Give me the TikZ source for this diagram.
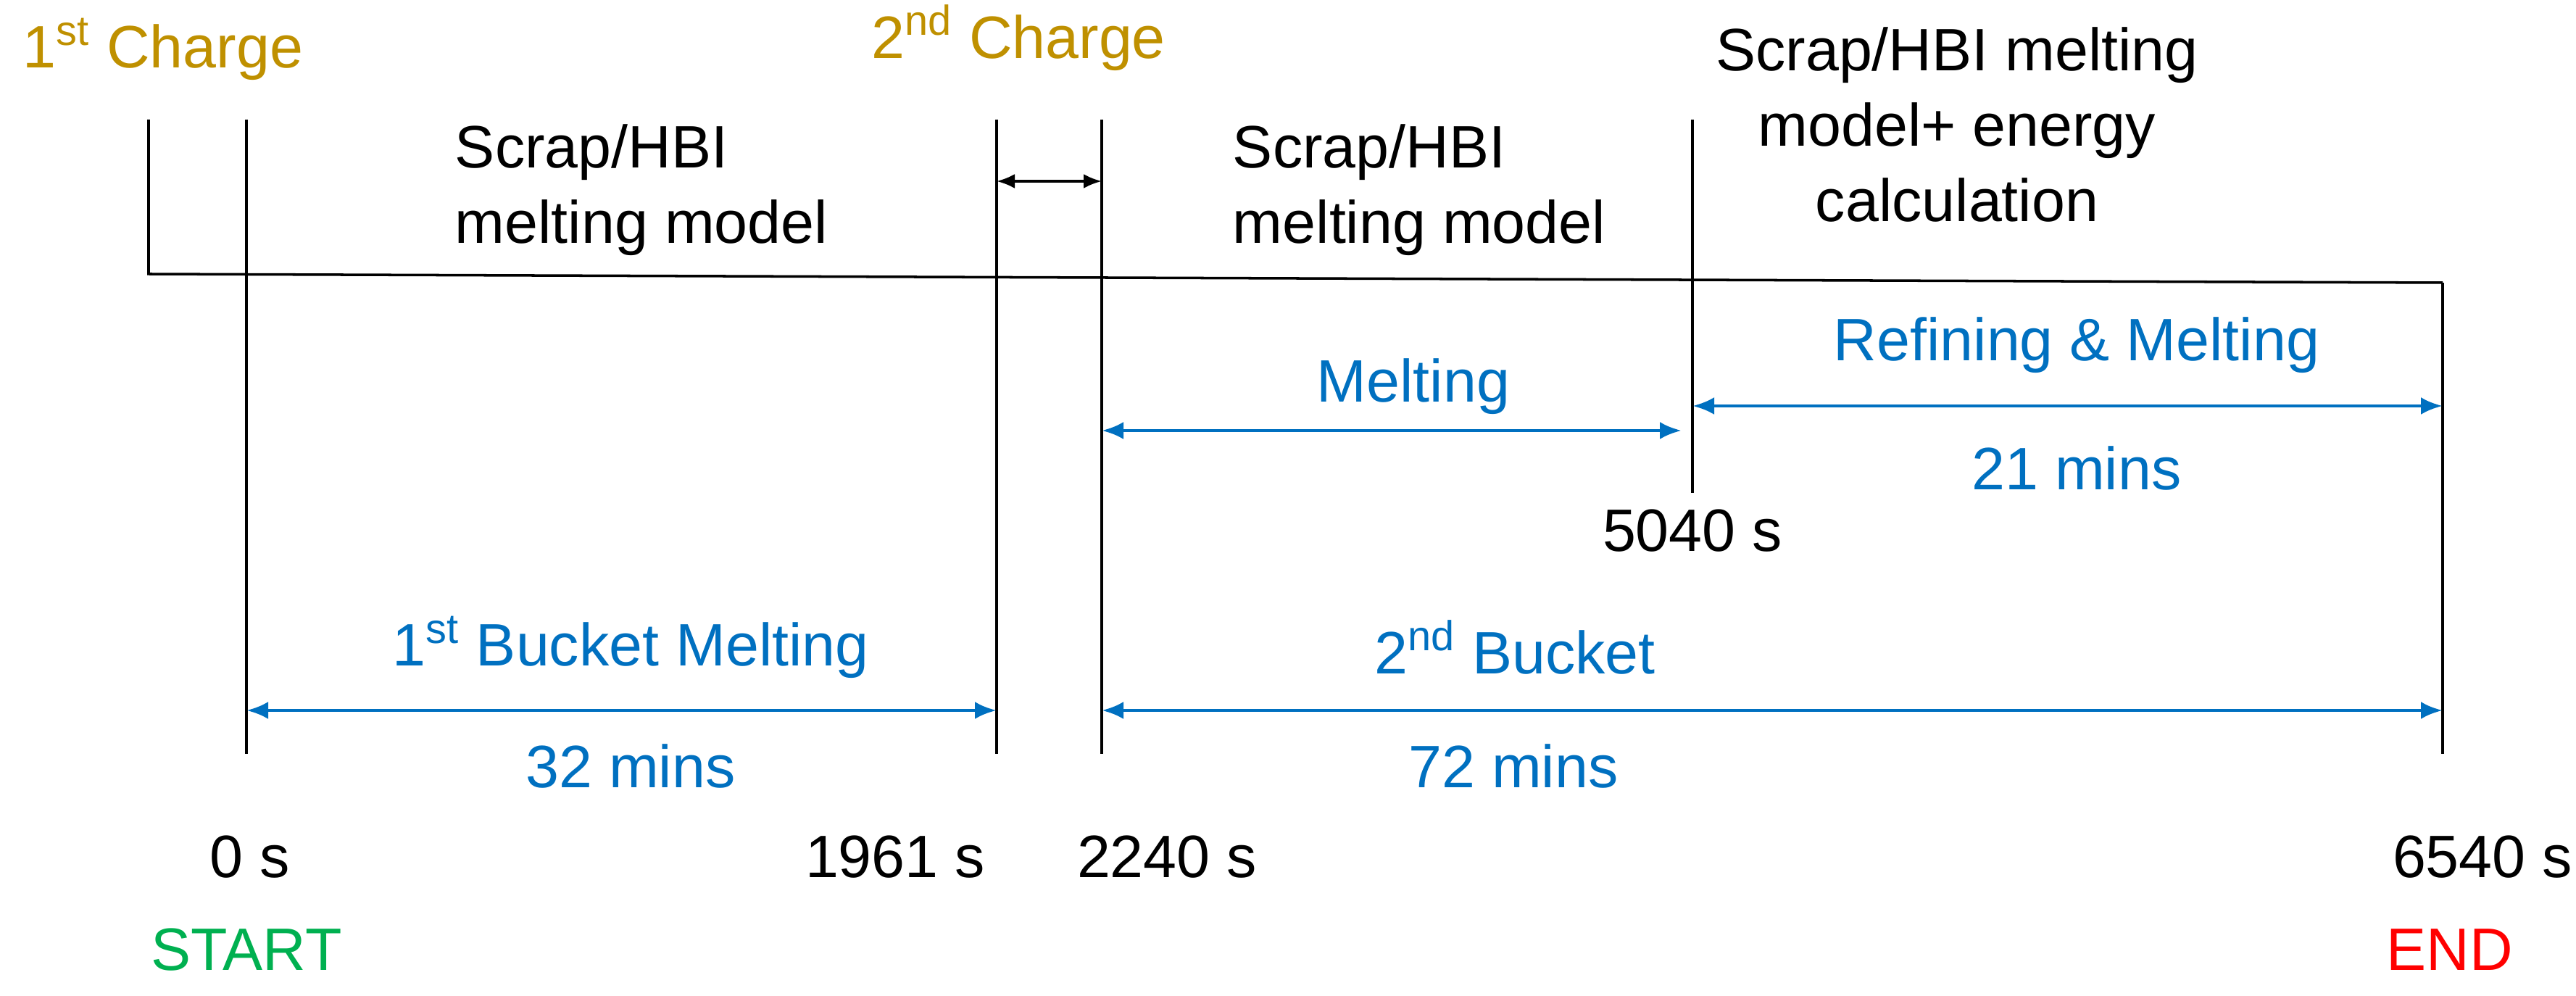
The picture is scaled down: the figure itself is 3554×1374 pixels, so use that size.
\documentclass[tikz,border=0pt]{standalone}
\usepackage{fontspec}
\setmainfont{Liberation Sans}
\usetikzlibrary{arrows.meta}
\definecolor{tlblue}{RGB}{0,112,192}
\definecolor{tlgold}{RGB}{191,144,0}
\definecolor{tlgreen}{RGB}{0,176,80}
\definecolor{tlred}{RGB}{255,0,0}
\tikzset{
  lbl/.style={font=\fontsize{23.5}{29.5}\selectfont, inner sep=0pt, align=center},
  span/.style={tlblue, line width=1.4pt, {Latex[length=3mm,width=2.4mm]}-{Latex[length=3mm,width=2.4mm]}},
  tick/.style={black, line width=1pt}
}
\begin{document}
\begin{tikzpicture}[x=0.1mm,y=-0.1mm]
\useasboundingbox (0,0) rectangle (3554,1374);
% timeline
\coordinate (L0) at (205,165);
\coordinate (L1) at (205,378);
\coordinate (R1) at (3370,390);
\draw [tick] (L0) -- (L1) -- (R1);
% vertical marks
\coordinate (a0) at (340,165);   \coordinate (a1) at (340,1040);
\coordinate (b0) at (1375,165);  \coordinate (b1) at (1375,1040);
\coordinate (c0) at (1520,165);  \coordinate (c1) at (1520,1040);
\coordinate (d0) at (2335,165);  \coordinate (d1) at (2335,680);
\coordinate (e1) at (3370,1040);
\draw [tick] (a0) -- (a1);
\draw [tick] (b0) -- (b1);
\draw [tick] (c0) -- (c1);
\draw [tick] (d0) -- (d1);
\draw [tick] (R1) -- (e1);
% charge gap
\draw [tick, {Latex[length=2.5mm,width=2mm]}-{Latex[length=2.5mm,width=2mm]}] (1375,250) -- (1520,250);
% phase labels
\node (ch1) [lbl, tlgold] at (225,68) {1\textsuperscript{st} Charge};
\node (ch2) [lbl, tlgold] at (1405,52) {2\textsuperscript{nd} Charge};
\node (m1) [lbl, align=left] at (885,262) {Scrap/HBI\\melting model};
\node (m2) [lbl, align=left] at (1958,262) {Scrap/HBI\\melting model};
\node (m3) [lbl] at (2700,172) {Scrap/HBI melting\\model+ energy\\calculation};
% spans
\node (melt) [lbl, tlblue] at (1950,533) {Melting};
\draw [span] (1520,594) -- (2320,594);
\node (ref) [lbl, tlblue] at (2865,476) {Refining \& Melting};
\draw [span] (2335,560) -- (3370,560);
\node (t21) [lbl, tlblue] at (2865,646) {21 mins};
\node (s5040) [lbl] at (2335,732) {5040 s};
\node (bk1) [lbl, tlblue] at (870,893) {1\textsuperscript{st} Bucket Melting};
\draw [span] (a1 |- 0,980) -- (b1 |- 0,980);
\node (t32) [lbl, tlblue] at (870,1057) {32 mins};
\node (bk2) [lbl, tlblue] at (2090,893) {2\textsuperscript{nd} Bucket};
\draw [span] (c1 |- 0,980) -- (e1 |- 0,980);
\node (t72) [lbl, tlblue] at (2088,1057) {72 mins};
% times
\node (s0) [lbl] at (345,1182) {0 s};
\node (s1961) [lbl] at (1235,1182) {1961 s};
\node (s2240) [lbl] at (1610,1182) {2240 s};
\node (s6540) [lbl] at (3425,1182) {6540 s};
\node (start) [lbl, tlgreen] at (340,1310) {START};
\node (end) [lbl, tlred] at (3380,1310) {END};
\end{tikzpicture}
\end{document}
